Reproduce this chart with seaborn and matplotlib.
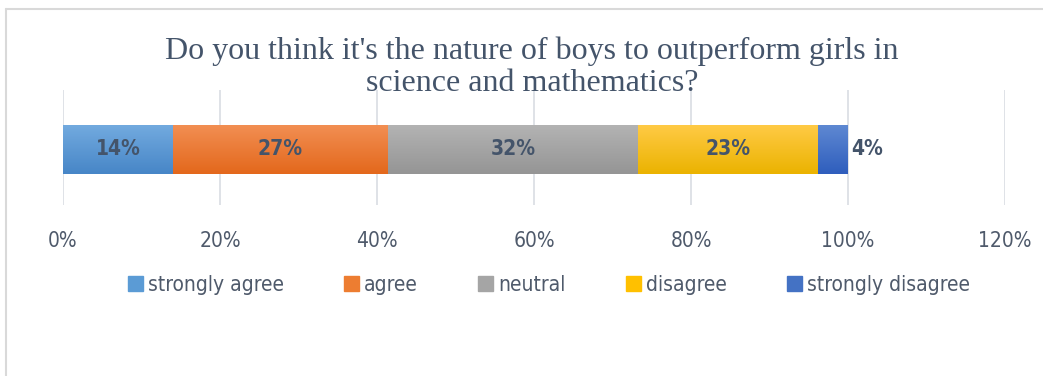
import matplotlib
matplotlib.use("Agg")
import matplotlib.pyplot as plt
import matplotlib.patches as mpatches
from matplotlib.colors import LinearSegmentedColormap
import numpy as np
import pandas as pd
import seaborn as sns

# data
categories = ["strongly agree", "agree", "neutral", "disagree", "strongly disagree"]
shares = [0.14, 0.274, 0.319, 0.229, 0.037]
row_label = [""]
x_ticks = [0.0, 0.2, 0.4, 0.6, 0.8, 1.0, 1.2]

title = "Do you think it's the nature of boys to outperform girls in\nscience and mathematics?"

base_colors = ["#5B9BD5", "#ED7D31", "#A5A5A5", "#FFC000", "#4472C4"]
grad_top = ["#72AADF", "#F28E52", "#B3B3B3", "#FFCA45", "#5E88D2"]
grad_bot = ["#4786C7", "#E3681C", "#959595", "#EBB300", "#2F5EBD"]

sns.set_theme(style="white")
plt.rcParams["font.family"] = ["DejaVu Sans"]
plt.rcParams["font.stretch"] = "condensed"

df = pd.DataFrame({"category": categories, "share": shares})
df["end"] = df["share"].cumsum()
df["start"] = df["end"] - df["share"]
df["row"] = row_label * len(df)

fig = plt.figure(figsize=(10.43, 3.76), dpi=100)
ax = fig.add_axes([63 / 1043, 1 - 205 / 376, 942 / 1043, 115 / 376])

# stacked bar: draw cumulative totals from the longest down so each overlays
for i in reversed(range(len(df))):
    sns.barplot(x=[df.loc[i, "end"]], y=[df.loc[i, "row"]], orient="h",
                color=base_colors[i], width=0.426, linewidth=0, ax=ax)

# soft vertical gradient on each segment, like the office chart style
for i, patch in enumerate(sorted(ax.patches, key=lambda p: p.get_width())):
    x0, y0 = patch.get_x(), patch.get_y()
    w, h = patch.get_width(), patch.get_height()
    seg_start = df.loc[i, "start"]
    cmap = LinearSegmentedColormap.from_list("g", [grad_top[i], grad_bot[i]])
    grad = np.linspace(0, 1, 64).reshape(-1, 1)
    im = ax.imshow(grad, cmap=cmap, aspect="auto", interpolation="bilinear",
                   extent=[seg_start, x0 + w, y0 + h, y0], zorder=patch.get_zorder() + 0.1)
    clip = mpatches.Rectangle((seg_start, y0), x0 + w - seg_start, h, transform=ax.transData)
    im.set_clip_path(clip)

ax.set_xlim(0, 1.2)
ax.set_ylim(0.483, -0.517)
ax.set_xticks(x_ticks)
ax.set_xticklabels([f"{t:.0%}" for t in x_ticks])
ax.tick_params(axis="x", length=0, pad=19, labelsize=15, colors="#4F5A6B")
ax.set_yticks([])
ax.set_xlabel("")
ax.set_ylabel("")
for s in ax.spines.values():
    s.set_visible(False)
ax.grid(axis="x", color="#DCDFE5", linewidth=1.3)
ax.set_axisbelow(True)

# data labels
for i, r in df.iterrows():
    if r["share"] < 0.08:
        ax.text(r["end"] + 0.005, 0, f"{r['share']:.0%}", ha="left", va="center",
                fontsize=15, fontweight="bold", color="#44546A", zorder=10)
    else:
        ax.text((r["start"] + r["end"]) / 2, 0, f"{r['share']:.0%}", ha="center",
                va="center", fontsize=15, fontweight="bold", color="#44546A", zorder=10)

fig.text(532 / 1043, 1 - 67 / 376, title, ha="center", va="center",
         family="Liberation Serif", stretch="normal", fontsize=23,
         color="#44546A", linespacing=1.15)

handles = [mpatches.Patch(color=c, label=l) for c, l in zip(base_colors, categories)]
fig.legend(handles=handles, loc="center", ncol=5, frameon=False,
           bbox_to_anchor=(549 / 1043, 1 - 285 / 376), fontsize=15,
           handlelength=0.7, handleheight=0.7, handletextpad=0.25,
           columnspacing=2.9, labelcolor="#4F5A6B")

# chart frame remnants at top and left
fig.add_artist(plt.Line2D([6 / 1043, 1], [1 - 9 / 376, 1 - 9 / 376],
                          transform=fig.transFigure, color="#D9D9D9", linewidth=1.5))
fig.add_artist(plt.Line2D([6 / 1043, 6 / 1043], [0, 1 - 9 / 376],
                          transform=fig.transFigure, color="#D9D9D9", linewidth=1.5))

fig.savefig("out.png", dpi=100)
